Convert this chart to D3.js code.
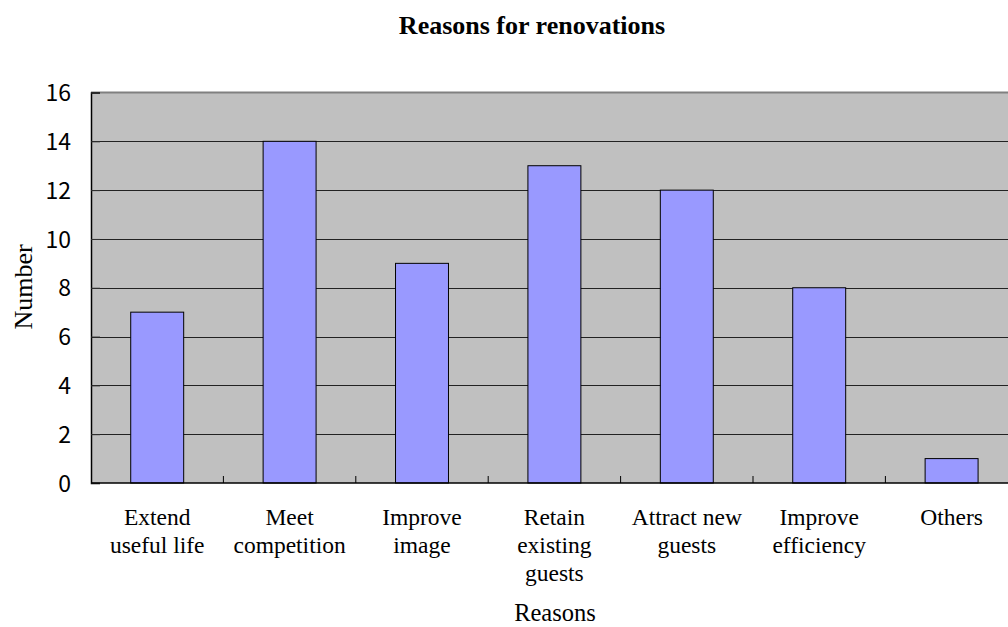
<!DOCTYPE html>
<html>
<head>
<meta charset="utf-8">
<script src="https://cdn.jsdelivr.net/npm/d3@7"></script>
<style>
  html, body { margin: 0; padding: 0; background: #fff; overflow: hidden; }
  svg { display: block; }
</style>
</head>
<body>
<svg id="chart" width="1008" height="627"></svg>
<script>
// Survey answers: why hotels renovate
const categories = [
  ["Extend", "useful life"],
  ["Meet", "competition"],
  ["Improve", "image"],
  ["Retain", "existing", "guests"],
  ["Attract new", "guests"],
  ["Improve", "efficiency"],
  ["Others"]
];
const counts = [7, 14, 9, 13, 12, 8, 1];
const yTicks = [0, 2, 4, 6, 8, 10, 12, 14, 16];

const chartTitle = "Reasons for renovations";
const xTitle = "Reasons";
const yTitle = "Number";

const serif = "'Liberation Serif', 'Times New Roman', serif";

const svg = d3.select("#chart");

const plot = { left: 91, top: 92.5, bottom: 483, right: 91 + 7 * 132.4 };

const x = d3.scaleBand()
  .domain(d3.range(categories.length))
  .range([plot.left, plot.right])
  .paddingInner(0)
  .paddingOuter(0);

const y = d3.scaleLinear()
  .domain([0, 16])
  .range([plot.bottom, plot.top]);

// plot background
svg.append("rect")
  .attr("x", plot.left).attr("y", plot.top)
  .attr("width", plot.right - plot.left)
  .attr("height", plot.bottom - plot.top)
  .attr("fill", "#c0c0c0");

// top border
svg.append("line")
  .attr("x1", plot.left).attr("x2", plot.right)
  .attr("y1", plot.top).attr("y2", plot.top)
  .attr("stroke", "#808080").attr("stroke-width", 2);

// horizontal gridlines
svg.append("g")
  .selectAll("line")
  .data(yTicks.filter(d => d > 0 && d < 16))
  .join("line")
  .attr("x1", plot.left).attr("x2", plot.right)
  .attr("y1", d => Math.round(y(d)) + 0.5).attr("y2", d => Math.round(y(d)) + 0.5)
  .attr("stroke", "#222").attr("stroke-width", 1);

// bars
svg.append("g")
  .selectAll("rect")
  .data(counts)
  .join("rect")
  .attr("x", (d, i) => x(i) + x.bandwidth() * 0.3)
  .attr("width", x.bandwidth() * 0.4)
  .attr("y", d => y(d))
  .attr("height", d => y(0) - y(d))
  .attr("fill", "#9999ff")
  .attr("stroke", "#000")
  .attr("stroke-width", 1);

// y axis
const yAxis = d3.axisLeft(y)
  .tickValues(yTicks)
  .tickSize(-9)
  .tickPadding(20)
  .tickFormat(d3.format("d"));
const gy = svg.append("g")
  .attr("transform", `translate(${plot.left},0)`)
  .call(yAxis);
gy.select(".domain").attr("stroke", "#000").attr("stroke-width", 1.5);
gy.selectAll(".tick line").attr("stroke", "#333");
gy.selectAll(".tick text")
  .attr("font-family", "'Noto Sans CJK JP', 'DejaVu Sans', sans-serif")
  .attr("font-size", 23)
  .attr("fill", "#000")
  .attr("dy", "0.35em");

// x axis baseline with ticks between categories
const boundaries = d3.range(1, categories.length).map(i => x(i));
svg.append("line")
  .attr("x1", plot.left).attr("x2", plot.right)
  .attr("y1", plot.bottom).attr("y2", plot.bottom)
  .attr("stroke", "#000").attr("stroke-width", 1.5);
svg.append("g")
  .selectAll("line")
  .data(boundaries)
  .join("line")
  .attr("x1", d => d).attr("x2", d => d)
  .attr("y1", plot.bottom).attr("y2", plot.bottom - 7)
  .attr("stroke", "#000");

// category labels
const labels = svg.append("g")
  .attr("font-family", serif)
  .attr("font-size", 23.5)
  .attr("fill", "#000")
  .attr("text-anchor", "middle");
labels.selectAll("text")
  .data(categories)
  .join("text")
  .attr("x", (d, i) => x(i) + x.bandwidth() / 2)
  .attr("y", 525)
  .selectAll("tspan")
  .data(d => d)
  .join("tspan")
  .attr("x", function () { return d3.select(this.parentNode).attr("x"); })
  .attr("dy", (d, i) => i === 0 ? 0 : 28)
  .text(d => d);

// titles
svg.append("text")
  .attr("x", 532).attr("y", 34)
  .attr("text-anchor", "middle")
  .attr("font-family", serif)
  .attr("font-weight", "bold")
  .attr("font-size", 26)
  .text(chartTitle);

svg.append("text")
  .attr("x", 555).attr("y", 621)
  .attr("text-anchor", "middle")
  .attr("font-family", serif)
  .attr("font-size", 24.5)
  .text(xTitle);

svg.append("text")
  .attr("transform", "translate(32,287) rotate(-90)")
  .attr("text-anchor", "middle")
  .attr("font-family", serif)
  .attr("font-size", 26)
  .text(yTitle);
</script>
</body>
</html>
